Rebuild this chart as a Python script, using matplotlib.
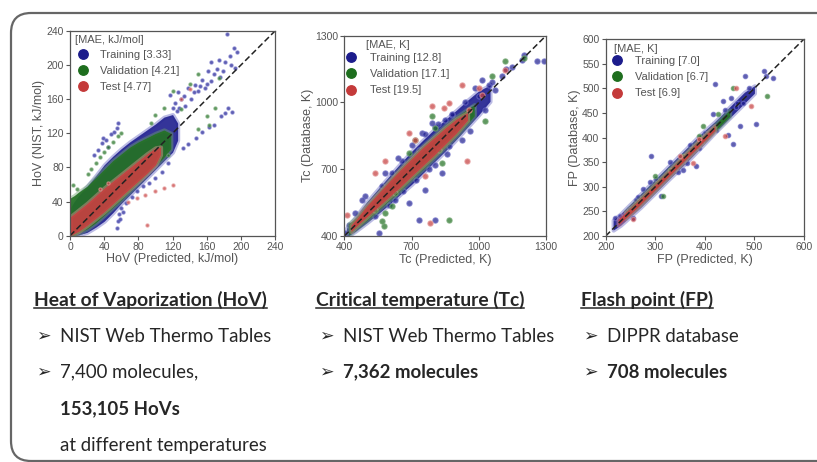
import matplotlib
matplotlib.use("Agg")
import matplotlib.pyplot as plt
from matplotlib.patches import FancyBboxPatch
from matplotlib.lines import Line2D

plt.rcParams['font.family'] = ['Liberation Sans', 'DejaVu Sans']

BLUE = '#1c1c8c'
GREEN = '#1e6e1e'
RED = '#c43a3a'
LIGHT = {BLUE: '#6a6ac4', GREEN: '#6fa36f', RED: '#e39494'}

# ---------------- HoV panel data ----------------
hov_lim = (0, 240)
hov_ticks = [0, 40, 80, 120, 160, 200, 240]
hov_legend = ['Training [3.33]', 'Validation [4.21]', 'Test [4.77]']
# dense band envelopes (predicted x, lower y, upper y)
hov_blue_x = [0, 5, 10, 20, 30, 40, 50, 60, 70, 80, 90, 100, 110, 120, 126]
hov_blue_lo = [0, 0, 1, 4, 10, 17, 27, 38, 48, 58, 68, 78, 88, 98, 112]
hov_blue_hi = [32, 40, 47, 58, 70, 83, 93, 102, 110, 117, 124, 131, 139, 142, 132]
hov_green_x = [0, 5, 10, 20, 30, 40, 50, 60, 70, 80, 90, 100, 110, 118]
hov_green_lo = [0, 0, 3, 8, 15, 24, 33, 42, 52, 62, 72, 82, 92, 102]
hov_green_hi = [44, 47, 51, 58, 68, 78, 88, 96, 104, 110, 115, 120, 124, 120]
hov_red_x = [0, 10, 20, 30, 40, 50, 60, 70, 80, 90, 100, 106]
hov_red_lo = [0, 5, 12, 20, 28, 37, 46, 55, 64, 73, 83, 95]
hov_red_hi = [22, 30, 38, 47, 56, 64, 72, 80, 88, 96, 103, 104]
# scattered points
hov_train_x = [184, 192, 195, 187, 181, 174, 165, 188, 193, 179, 169, 161, 154, 146, 138, 165, 158,
               134, 126, 130, 123, 117, 150, 142, 172, 176, 160, 152, 145, 128, 135,
               185, 181, 177, 169, 163, 154, 148, 138, 132, 190,
               56, 55, 48, 39, 37, 42, 52, 44, 33, 28,
               72, 66, 60, 57, 56, 55, 78, 85, 92, 100, 108, 115, 62, 58, 120, 125]
hov_train_y = [236, 220, 215, 211, 204, 206, 204, 200, 197, 193, 189, 193, 183, 177, 173, 181, 173,
               164, 169, 160, 156, 165, 170, 160, 196, 186, 178, 176, 168, 150, 152,
               150, 144, 140, 130, 127, 121, 115, 107, 103, 145,
               132, 126, 119, 115, 109, 112, 122, 104, 100, 95,
               45, 38, 33, 25, 17, 9, 52, 58, 62, 68, 75, 85, 28, 20, 150, 146]
hov_val_x = [150, 140, 120, 170, 160, 175, 163, 150, 115, 110, 100, 60, 21, 30, 40, 50, 56, 8, 3, 95,
             25, 35, 45, 130]
hov_val_y = [190, 178, 170, 150, 140, 185, 130, 125, 95, 150, 142, 120, 72, 85, 98, 110, 117, 55, 60, 132,
             78, 92, 104, 148]
hov_test_x = [68, 78, 88, 100, 110, 120, 90, 35, 45, 130, 140]
hov_test_y = [40, 44, 48, 52, 56, 60, 12, 55, 62, 160, 172]

# ---------------- Tc panel data ----------------
tc_lim = (400, 1300)
tc_ticks = [400, 700, 1000, 1300]
tc_legend = ['Training [12.8]', 'Validation [17.1]', 'Test [19.5]']
tc_blue_x = [410, 450, 500, 550, 600, 650, 700, 750, 800, 850, 900, 950, 1000, 1050]
tc_blue_lo = [395, 422, 460, 500, 542, 588, 632, 682, 732, 782, 835, 890, 945, 1005]
tc_blue_hi = [435, 485, 552, 610, 668, 725, 780, 830, 878, 922, 965, 1010, 1052, 1078]
tc_green_x = [420, 450, 500, 550, 600, 650, 700, 750, 800, 850, 900, 950, 980]
tc_green_lo = [405, 430, 470, 515, 560, 605, 655, 700, 750, 800, 850, 905, 940]
tc_green_hi = [455, 480, 540, 595, 650, 705, 755, 805, 850, 895, 935, 970, 990]
tc_red_x = [430, 450, 500, 550, 600, 650, 700, 750, 800, 850, 900, 950]
tc_red_lo = [420, 440, 485, 530, 575, 620, 668, 715, 762, 812, 862, 920]
tc_red_hi = [450, 472, 535, 590, 645, 698, 748, 798, 842, 886, 926, 955]
tc_train_x = [1289, 1260, 1193, 1200, 1104, 1044, 1014, 1074, 1000, 985, 970, 1029, 880, 851, 806, 791,
              747, 732, 717, 657, 613, 583, 568, 494, 479, 732, 687, 628, 761, 836, 866, 925, 806,
              419, 405, 449, 538, 553, 806, 895, 910,
              640, 700, 760, 820, 880, 940, 600, 660, 720, 780, 860, 960, 1060, 1120, 1150]
tc_train_y = [1185, 1185, 1192, 1215, 1117, 1080, 1102, 1057, 1027, 1065, 975, 967, 945, 922, 892, 907,
              863, 788, 743, 735, 683, 683, 623, 578, 563, 473, 548, 563, 608, 683, 803, 833, 720,
              451, 413, 503, 488, 413, 473, 878, 907,
              750, 810, 860, 905, 950, 1000, 540, 600, 650, 700, 770, 870, 1090, 1150, 1160]
tc_val_x = [1118, 1200, 1059, 1029, 836, 821, 791, 806, 717, 687, 628, 613, 583, 576, 568, 866, 538]
tc_val_y = [1185, 1200, 1117, 915, 728, 788, 937, 885, 833, 773, 593, 533, 503, 443, 466, 473, 518]
tc_test_x = [999, 925, 955, 947, 583, 687, 717, 791, 843, 412, 784, 538, 1014, 866, 1118, 761]
tc_test_y = [1065, 1080, 967, 735, 735, 863, 833, 982, 975, 496, 458, 683, 1035, 997, 1147, 668]

# ---------------- FP panel data ----------------
fp_lim = (200, 600)
fp_ticks = [200, 300, 400, 500, 600]
fp_yticks = [200, 250, 300, 350, 400, 450, 500, 550, 600]
fp_legend = ['Training [7.0]', 'Validation [6.7]', 'Test [6.9]']
fp_blue_x = [215, 230, 250, 270, 300, 330, 360, 390, 420, 450, 480, 500]
fp_blue_lo = [212, 222, 240, 258, 288, 318, 347, 378, 410, 440, 470, 490]
fp_blue_hi = [232, 245, 265, 285, 315, 345, 375, 405, 432, 462, 492, 505]
fp_green_x = [240, 270, 300, 340, 380, 420, 450]
fp_green_lo = [236, 263, 293, 333, 373, 413, 443]
fp_green_hi = [250, 279, 309, 348, 388, 426, 456]
fp_red_x = [225, 260, 300, 340, 380, 420]
fp_red_lo = [222, 254, 294, 334, 374, 414]
fp_red_hi = [234, 266, 305, 345, 385, 424]
fp_train_x = [520, 537, 524, 480, 420, 504, 470, 457, 447, 416, 423, 400, 389, 292, 383, 356, 363,
              302, 312, 275, 262, 248, 228, 218, 255, 463, 477, 436, 453,
              330, 345, 370, 395, 290, 265, 440, 465, 490]
fp_train_y = [535, 521, 525, 525, 508, 427, 423, 386, 406, 447, 416, 410, 379, 362, 342, 335, 349,
              315, 281, 295, 274, 254, 240, 237, 237, 461, 471, 474, 481,
              350, 330, 385, 390, 310, 280, 455, 470, 500]
fp_val_x = [526, 457, 426, 396, 389, 299, 316, 356, 329]
fp_val_y = [484, 501, 447, 423, 403, 322, 281, 362, 335]
fp_test_x = [463, 494, 440, 376, 389, 255, 349]
fp_test_y = [501, 464, 403, 349, 396, 234, 362]

W, H = 817, 462
fig = plt.figure(figsize=(W / 100, H / 100), dpi=100)

# slide border
border = FancyBboxPatch((0.11, 0.01), 8.5, 4.48, boxstyle="round,pad=0,rounding_size=0.2",
                        transform=fig.dpi_scale_trans, fill=False, ec='#666666', lw=1.6)
fig.add_artist(border)

TXT = '#555555'
LFS = 8.0


def panel(px, lim, xticks, yticks, xlabel, ylabel, title, labels, bands, pts, ms, leg_px):
    l, r, t, b = px
    w, h = r - l, b - t
    ax = fig.add_axes([l / W, 1 - b / H, w / W, h / H])
    cols = [BLUE, GREEN, RED]
    for c, (bx, lo, hi), (sx, sy) in zip(cols, bands, pts):
        ax.fill_between(bx, lo, hi, color=LIGHT[c], alpha=0.45, lw=3.0, edgecolor=LIGHT[c])
        ax.fill_between(bx, lo, hi, color=c, alpha=0.85, lw=0)
        ax.scatter(sx, sy, s=ms, color=c, alpha=0.7, lw=0.9, edgecolors=LIGHT[c])
    ax.plot(lim, lim, ls=(0, (4, 2)), color='#222222', lw=1.1)
    ax.set_xlim(lim)
    ax.set_ylim(lim)
    ax.set_xticks(xticks)
    ax.set_yticks(yticks)
    ax.tick_params(direction='out', length=3, width=0.8, colors=TXT, labelsize=7.5, pad=1.5)
    for s in ax.spines.values():
        s.set_color('#555555')
        s.set_linewidth(0.9)
    ax.set_xlabel(xlabel, fontsize=9, color=TXT, labelpad=1)
    ax.set_ylabel(ylabel, fontsize=9, color=TXT, labelpad=1)
    (tx, ty), (mx, my), txt_x = leg_px
    ax.text((tx - l) / w, 1 - (ty - t) / h, title, transform=ax.transAxes, fontsize=LFS, color=TXT,
            va='center', ha='left')
    fs_px = LFS * 100 / 72
    handles = [Line2D([], [], marker='o', ls='', color=c, markersize=6.8) for c in cols]
    anchor_x = mx - 0.5 * fs_px
    leg = ax.legend(handles, labels, loc='upper left', frameon=False, fontsize=LFS,
                    handlelength=1.0, handletextpad=(txt_x - anchor_x - fs_px) / fs_px,
                    labelspacing=0.55, borderaxespad=0, borderpad=0, labelcolor=TXT,
                    bbox_to_anchor=((anchor_x - l) / w, 1 - (my - 4.8 - t) / h))
    return ax


panel((70, 275, 31, 235.7), hov_lim, hov_ticks, hov_ticks, 'HoV (Predicted, kJ/mol)', 'HoV (NIST, kJ/mol)',
      '[MAE, kJ/mol]', hov_legend,
      [(hov_blue_x, hov_blue_lo, hov_blue_hi), (hov_green_x, hov_green_lo, hov_green_hi),
       (hov_red_x, hov_red_lo, hov_red_hi)],
      [(hov_train_x, hov_train_y), (hov_val_x, hov_val_y), (hov_test_x, hov_test_y)], 5,
      ((75, 40), (83.3, 54.3), 100))
panel((344.3, 546, 35.7, 236), tc_lim, tc_ticks, tc_ticks, 'Tc (Predicted, K)', 'Tc (Database, K)',
      '[MAE, K]', tc_legend,
      [(tc_blue_x, tc_blue_lo, tc_blue_hi), (tc_green_x, tc_green_lo, tc_green_hi),
       (tc_red_x, tc_red_lo, tc_red_hi)],
      [(tc_train_x, tc_train_y), (tc_val_x, tc_val_y), (tc_test_x, tc_test_y)], 14,
      ((366, 44.7), (351, 58), 370))
panel((605.7, 804, 39, 236), fp_lim, fp_ticks, fp_yticks, 'FP (Predicted, K)', 'FP (Database, K)',
      '[MAE, K]', fp_legend,
      [(fp_blue_x, fp_blue_lo, fp_blue_hi), (fp_green_x, fp_green_lo, fp_green_hi),
       (fp_red_x, fp_red_lo, fp_red_hi)],
      [(fp_train_x, fp_train_y), (fp_val_x, fp_val_y), (fp_test_x, fp_test_y)], 10,
      ((614, 48.7), (617, 61), 634.7))

# ---------------- description text ----------------
BODY = ['Lato', 'DejaVu Sans']
HFS = 13.9
FS = 13.4
headings = [(34, 'Heat of Vaporization (HoV)'), (316, 'Critical temperature (Tc)'), (581, 'Flash point (FP)')]
items = [
    (36, 60, 336, '➢', 'NIST Web Thermo Tables', 'normal'),
    (36, 60, 372, '➢', '7,400 molecules,', 'normal'),
    (None, 60, 409, '', '153,105 HoVs', 'bold'),
    (None, 60, 446, '', 'at different temperatures', 'normal'),
    (319, 343, 336, '➢', 'NIST Web Thermo Tables', 'normal'),
    (319, 343, 372, '➢', '7,362 molecules', 'bold'),
    (583, 607, 336, '➢', 'DIPPR database', 'normal'),
    (583, 607, 372, '➢', '708 molecules', 'bold'),
]
head_artists = []
for x, s in headings:
    head_artists.append(fig.text(x / W, 1 - 300 / H, s, fontsize=HFS, fontweight='bold', family=BODY,
                                 color='#262626', va='center', ha='left'))
for ax_, tx, y, arrow, s, w in items:
    if ax_ is not None:
        fig.text(ax_ / W, 1 - y / H, arrow, fontsize=12.5, family=['DejaVu Sans'], color='#262626',
                 va='center', ha='left')
    fig.text(tx / W, 1 - y / H, s, fontsize=FS, fontweight=w, family=BODY, color='#262626',
             va='center', ha='left')

fig.canvas.draw()
rend = fig.canvas.get_renderer()
inv = fig.transFigure.inverted()
for t in head_artists:
    bb = t.get_window_extent(rend)
    (x0, y0), (x1, _) = inv.transform([(bb.x0, bb.y0 + 1), (bb.x1, bb.y0 + 1)])
    fig.add_artist(Line2D([x0, x1], [y0, y0], transform=fig.transFigure, color='#262626', lw=1.1))

fig.savefig('out.png', dpi=100)
